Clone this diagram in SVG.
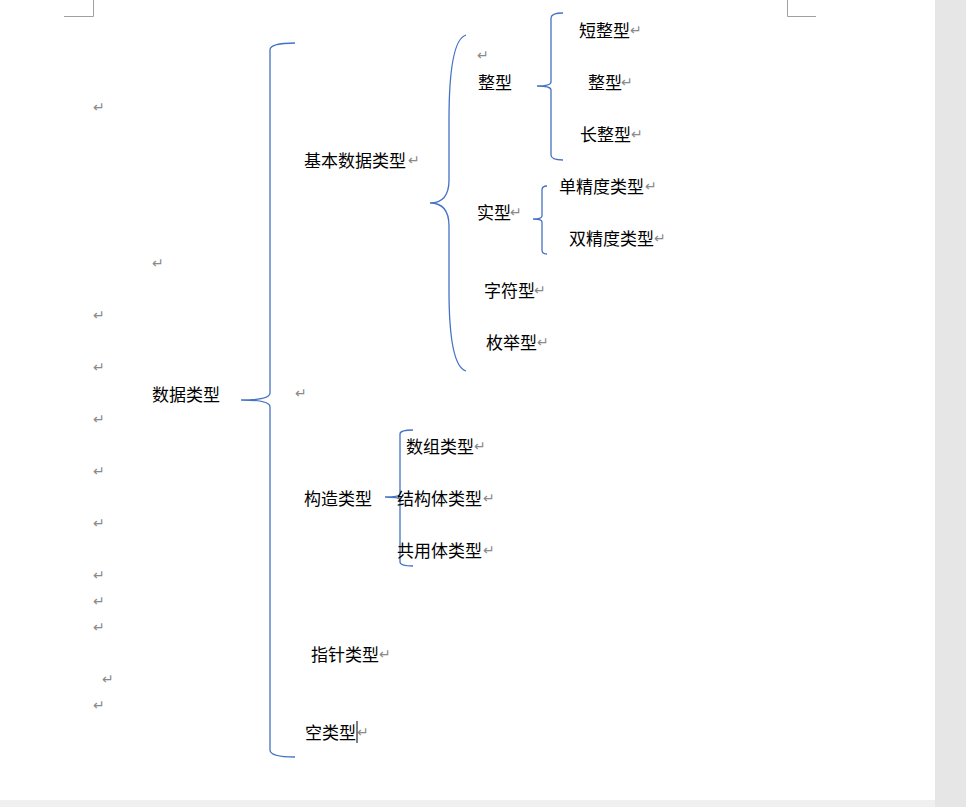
<svg xmlns="http://www.w3.org/2000/svg" width="966" height="807" viewBox="0 0 966 807">
<style>
text{font-family:"Noto Sans CJK SC","Liberation Sans",sans-serif;font-size:17px;fill:#000;dominant-baseline:central}
.pm{fill:#8a8a8a;font-size:14px}
.br{fill:none;stroke:#4472c4;stroke-width:1.3}
.crop{fill:none;stroke:#a0a0a0;stroke-width:1}
</style>
<rect width="966" height="807" fill="#fff"/>
<rect x="935" y="0" width="31" height="807" fill="#e6e6e6"/>
<rect x="0" y="800" width="935" height="7" fill="#f0f0f0"/>
<path class="crop" d="M64 16.5H93.5V0M787.5 0V16.5H816"/>
<g id="connectors">
<path class="br" d="M295 43Q270 43 270 50V393Q270 400 241 400Q270 400 270 407V750Q270 757 295 757"/>
<path class="br" d="M466 35Q449 40 449 120V180Q449 203 430 203Q449 203 449 226V290Q449 366 466 371"/>
<path class="br" d="M563 13Q551 13 551 18V82Q551 86 537 86Q551 86 551 90V155Q551 160 563 160"/>
<path class="br" d="M547 186Q542 186 542 190V216Q542 219 533 219Q542 219 542 222V250Q542 254 547 254"/>
<path class="br" d="M413 430Q400 430 400 434V494Q400 497 385 497Q400 497 400 500V562Q400 566 413 566"/>
</g>
<g id="root"><text x="152" y="393">数据类型</text></g>
<g id="basic"><text x="304" y="159">基本数据类型</text><text class="pm" x="408" y="159">↵</text></g>
<g id="int"><text x="478" y="81">整型</text><text class="pm" x="477" y="54">↵</text></g>
<g id="short"><text x="579" y="29">短整型</text><text class="pm" x="630" y="29">↵</text></g>
<g id="int2"><text x="588" y="81">整型</text><text class="pm" x="621" y="81">↵</text></g>
<g id="long"><text x="580" y="133">长整型</text><text class="pm" x="631" y="133">↵</text></g>
<g id="real"><text x="477" y="211">实型</text><text class="pm" x="510" y="211">↵</text></g>
<g id="single"><text x="559" y="185">单精度类型</text><text class="pm" x="645" y="185">↵</text></g>
<g id="double"><text x="569" y="237">双精度类型</text><text class="pm" x="654" y="237">↵</text></g>
<g id="char"><text x="484" y="289">字符型</text><text class="pm" x="534" y="289">↵</text></g>
<g id="enum"><text x="486" y="341">枚举型</text><text class="pm" x="537" y="341">↵</text></g>
<g id="struct"><text x="304" y="497">构造类型</text></g>
<g id="array"><text x="406" y="445">数组类型</text><text class="pm" x="474" y="445">↵</text></g>
<g id="structure"><text x="397" y="497">结构体类型</text><text class="pm" x="483" y="497">↵</text></g>
<g id="union"><text x="397" y="549">共用体类型</text><text class="pm" x="483" y="549">↵</text></g>
<g id="pointer"><text x="311" y="653">指针类型</text><text class="pm" x="379" y="653">↵</text></g>
<g id="void"><text x="305" y="731">空类型</text><text class="pm" x="357" y="731">↵</text><line x1="357" y1="721" x2="357" y2="743" stroke="#000"/></g>
<g id="marks" class="pm">
<text class="pm" x="93" y="106">↵</text><text class="pm" x="152" y="262">↵</text><text class="pm" x="93" y="314">↵</text><text class="pm" x="93" y="366">↵</text><text class="pm" x="295" y="392">↵</text><text class="pm" x="93" y="418">↵</text><text class="pm" x="93" y="470">↵</text><text class="pm" x="93" y="522">↵</text><text class="pm" x="93" y="574">↵</text><text class="pm" x="93" y="600">↵</text><text class="pm" x="93" y="626">↵</text><text class="pm" x="102" y="678">↵</text><text class="pm" x="93" y="704">↵</text>
</g>
</svg>
